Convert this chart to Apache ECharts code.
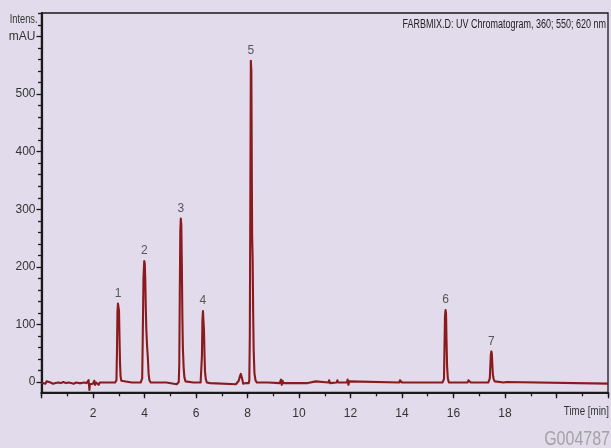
<!DOCTYPE html>
<html>
<head>
<meta charset="utf-8">
<script src="https://cdn.jsdelivr.net/npm/echarts@6/dist/echarts.min.js"></script>
<style>
html,body{margin:0;padding:0;background:#E1DBEC;}
#c{width:611px;height:448px;}
</style>
</head>
<body>
<div id="c"></div>
<script>
// ---- data (time [min], intensity [mAU]) ----
const baselineA = [[0.0,-1],[0.05,-1],[0.15,-3],[0.2,1],[0.25,-2],[0.35,-1],[0.45,-3],[0.5,0],[0.55,-2],[0.65,-1],[0.75,-2],[0.85,0],[0.95,-2],[1.05,-1],[1.15,-2],[1.25,-3],[1.35,-1],[1.45,-2],[1.55,-2],[1.65,-1],[1.75,-2],[1.8,-1],[1.83,3],[1.86,-14],[1.88,-4],[1.9,-2],[1.95,-1],[2.0,-3],[2.05,2],[2.08,-5],[2.12,-1],[2.18,2],[2.22,-5],[2.26,-1],[2.3,-1],[2.5,-1],[2.7,-1],[2.86,-1]];
const peak1 = [[2.88,-1],[2.91,3],[2.93,50],[2.95,122],[2.97,136],[2.99,133],[3.01,124],[3.03,75],[3.05,32],[3.07,10],[3.10,2],[3.14,-1]];
const baselineB = [[3.5,-1],[3.85,-1]];
const peak2 = [[3.88,0],[3.91,6],[3.93,70],[3.96,180],[3.99,210],[4.01,206],[4.03,178],[4.05,130],[4.07,92],[4.10,62],[4.13,42],[4.16,14],[4.19,3],[4.24,-1]];
const baselineC = [[4.6,-1],[4.85,-1],[4.9,-4],[5.25,-4],[5.3,-2]];
const peak3 = [[5.33,0],[5.35,30],[5.37,150],[5.39,262],[5.41,284],[5.43,272],[5.45,205],[5.47,115],[5.49,60],[5.52,25],[5.55,8],[5.59,1],[5.64,-1]];
const baselineD = [[5.9,-1],[6.18,-1]];
const peak4 = [[6.21,2],[6.23,45],[6.25,108],[6.27,123],[6.29,121],[6.31,90],[6.33,48],[6.35,18],[6.38,5],[6.42,-1]];
const baselineE = [[6.55,-2],[6.6,-4],[7.55,-4],[7.62,-2],[7.66,2],[7.70,9],[7.74,14],[7.77,12],[7.80,4],[7.83,-3],[7.87,-2],[7.95,-2],[8.05,-2]];
const peak5 = [[8.07,3],[8.09,80],[8.11,320],[8.13,558],[8.15,540],[8.16,447],[8.17,340],[8.18,255],[8.20,212],[8.22,120],[8.24,55],[8.27,15],[8.31,3],[8.36,-1]];
const baselineF = [[8.8,-1],[9.25,-2],[9.3,4],[9.33,-5],[9.36,2],[9.4,-2],[10.35,-2],[10.4,1],[10.65,1],[10.7,-1],[11.14,-1],[11.17,3],[11.2,-2],[11.46,-1],[11.49,3],[11.52,-1],[11.86,-1],[11.89,4],[11.92,-5],[11.95,1],[11.98,-1],[13.9,-1],[13.92,3],[13.98,3],[14.0,-1],[15.57,-1]];
const peak6 = [[15.60,0],[15.63,5],[15.65,60],[15.67,115],[15.69,125],[15.71,120],[15.73,70],[15.75,28],[15.78,6],[15.82,-1]];
const baselineG = [[16.55,-1],[16.58,3],[16.64,3],[16.67,-1],[17.35,-1]];
const peak7 = [[17.38,1],[17.41,6],[17.43,27],[17.45,48],[17.47,53],[17.49,49],[17.51,28],[17.53,12],[17.56,5],[17.60,1],[17.65,-1]];
const baselineH = [[17.95,-1],[18.0,1],[18.05,0],[18.1,-3],[22,-3]];

const peakNames = ['1','2','3','4','5','6','7'];
const peaks = [peak1, peak2, peak3, peak4, peak5, peak6, peak7];

const xLabelValues = [2,4,6,8,10,12,14,16,18];
const yMajorValues = [0,100,200,300,400,500,600];
const yMinorValues = [20,40,60,80,120,140,160,180,220,240,260,280,320,340,360,380,420,440,460,480,520,540,560,580,620,640];

const titleText = 'FARBMIX.D: UV Chromatogram, 360; 550; 620 nm';
const xName = 'Time [min]';
const yName1 = 'Intens.';
const yName2 = 'mAU';
const watermark = 'G004787';

// ---- build ----
const trace = [].concat(baselineA, peak1, baselineB, peak2, baselineC, peak3, baselineD, peak4,
  baselineE, peak5, baselineF, peak6, baselineG, peak7, baselineH);
const apexes = peaks.map((p, i) => {
  const top = p.reduce((a, b) => (b[1] > a[1] ? b : a));
  return { value: [top[0], top[1]], name: peakNames[i] };
});

const FONT = "'Liberation Sans',Arial,sans-serif";
const AX = '#1a1a1a';
const TXT = '#333333';

const chart = echarts.init(document.getElementById('c'), null, { renderer: 'canvas' });
chart.setOption({
  animation: false,
  backgroundColor: '#E1DBEC',
  grid: { left: 41.5, right: 2, top: 13, bottom: 55.7, show: true, borderColor: AX, borderWidth: 1.3, backgroundColor: 'transparent' },
  xAxis: [
    {
      type: 'value', min: 0, max: 22, interval: 2,
      axisLine: { show: true, onZero: false, lineStyle: { color: AX, width: 2.2 } },
      axisTick: { show: true, length: 6, lineStyle: { color: AX, width: 1.3 } },
      axisLabel: {
        color: TXT, fontFamily: FONT, fontSize: 12, margin: 15,
        formatter: v => (xLabelValues.indexOf(v) >= 0 ? String(v) : '')
      },
      splitLine: { show: false }
    },
    {
      type: 'value', min: 0, max: 22, interval: 1, position: 'bottom',
      axisLine: { show: false, onZero: false },
      axisTick: { show: true, length: 4, lineStyle: { color: AX, width: 1.3 } },
      axisLabel: { show: false },
      splitLine: { show: false }
    }
  ],
  yAxis: [
    {
      type: 'value', min: -18, max: 641,
      axisLine: { show: true, onZero: false, lineStyle: { color: AX, width: 2.2 } },
      axisTick: { show: true, length: 5, customValues: yMajorValues, lineStyle: { color: AX, width: 1.3 } },
      axisLabel: {
        customValues: yMajorValues, color: TXT, fontFamily: FONT, fontSize: 12, margin: 6,
        formatter: v => (v === 600 ? yName2 : String(v))
      },
      splitLine: { show: false }
    },
    {
      type: 'value', min: -18, max: 641, position: 'left',
      axisLine: { show: false, onZero: false },
      axisTick: { show: true, length: 3.5, customValues: yMinorValues, lineStyle: { color: AX, width: 1.3 } },
      axisLabel: { show: false, customValues: yMinorValues },
      splitLine: { show: false }
    }
  ],
  series: [
    {
      type: 'line', data: trace, xAxisIndex: 0, yAxisIndex: 0,
      showSymbol: false, symbol: 'none', sampling: null,
      lineStyle: { color: '#8B1A1D', width: 2.1, join: 'round' },
      clip: true, z: 3
    },
    {
      type: 'scatter', data: apexes, xAxisIndex: 0, yAxisIndex: 0,
      symbolSize: 0, itemStyle: { color: 'transparent' },
      label: {
        show: true, position: 'top', distance: 4, formatter: p => p.name,
        color: TXT, fontFamily: FONT, fontSize: 12
      },
      z: 4
    }
  ],
  graphic: [
    { type: 'text', x: 606, y: 25, scaleX: 0.72,
      style: { text: titleText, fill: '#222', font: '12.5px ' + FONT, align: 'right', verticalAlign: 'middle' } },
    { type: 'text', x: 37.5, y: 19.5, scaleX: 0.74,
      style: { text: yName1, fill: TXT, font: '12.5px ' + FONT, align: 'right', verticalAlign: 'middle' } },
    { type: 'text', x: 609, y: 412, scaleX: 0.78,
      style: { text: xName, fill: TXT, font: '12.5px ' + FONT, align: 'right', verticalAlign: 'middle' } },
    { type: 'text', x: 610, y: 439.5, scaleX: 0.8,
      style: { text: watermark, fill: '#A3A3A3', font: '20px ' + FONT, align: 'right', verticalAlign: 'middle' } }
  ]
});
</script>
</body>
</html>
